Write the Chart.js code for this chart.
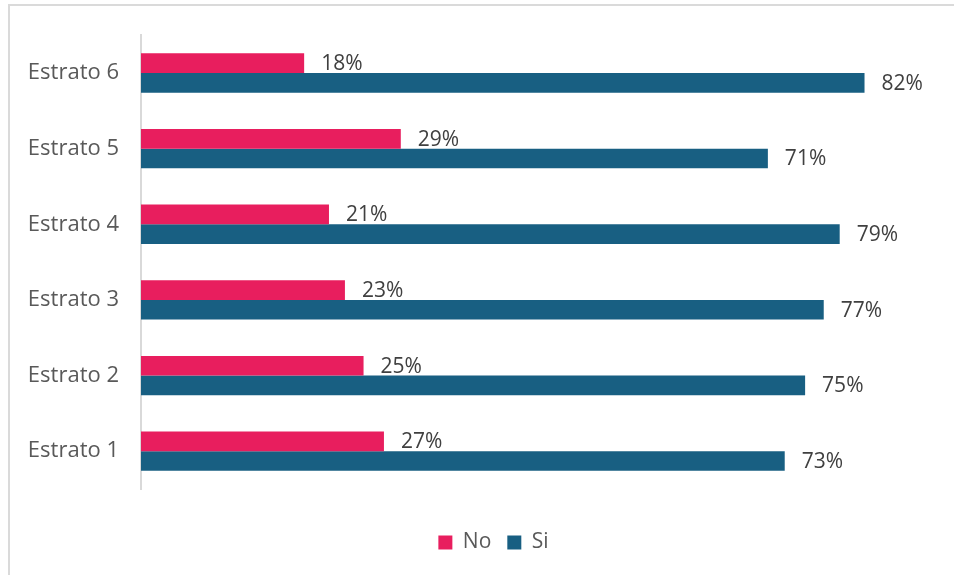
<!DOCTYPE html>
<html>
<head>
<meta charset="utf-8">
<script src="https://cdn.jsdelivr.net/npm/chart.js@4/dist/chart.umd.min.js"></script>
<style>
html,body{margin:0;padding:0;background:#fff;}
#wrap{position:relative;width:954px;height:575px;}
#frame{position:absolute;left:8px;top:4px;right:0;bottom:0;border-top:2px solid #dadada;border-left:2px solid #dadada;pointer-events:none;}
canvas{position:absolute;left:0;top:0;}
</style>
</head>
<body>
<div id="wrap">
<canvas id="c" width="954" height="575"></canvas>
<div id="frame"></div>
</div>
<script>
const categories = ['Estrato 6','Estrato 5','Estrato 4','Estrato 3','Estrato 2','Estrato 1'];
const seriesNo = [18.4, 29.3, 21.2, 23.0, 25.1, 27.4];
const seriesSi = [81.6, 70.7, 78.8, 77.0, 74.9, 72.6];
const seriesNames = ['No','Si'];
const colors = ['#E81E5E','#185F82'];
const FONT = "'Open Sans', sans-serif";

const labelPlugin = {
  id: 'barLabels',
  afterDatasetsDraw(chart) {
    const ctx = chart.ctx;
    ctx.save();
    ctx.font = "21px " + FONT;
    ctx.fillStyle = '#404040';
    ctx.textAlign = 'left';
    ctx.textBaseline = 'middle';
    chart.data.datasets.forEach((ds, i) => {
      const meta = chart.getDatasetMeta(i);
      meta.data.forEach((bar, j) => {
        const v = ds.data[j];
        ctx.fillText(Math.round(v) + '%', bar.x + 17, bar.y + 1);
      });
    });
    ctx.restore();
  }
};

const legendShift = {
  id: 'legendShift',
  afterLayout(chart) {
    const lg = chart.legend;
    if (lg) { lg.left += 24; lg.right += 24; }
  }
};

new Chart(document.getElementById('c'), {
  type: 'bar',
  data: {
    labels: categories,
    datasets: [
      { label: seriesNames[0], data: seriesNo, backgroundColor: colors[0], borderWidth: 0 },
      { label: seriesNames[1], data: seriesSi, backgroundColor: colors[1], borderWidth: 0 }
    ]
  },
  options: {
    indexAxis: 'y',
    responsive: false,
    animation: false,
    devicePixelRatio: 1,
    categoryPercentage: 0.52,
    barPercentage: 1.0,
    layout: { padding: { top: 33, right: 15, left: 0, bottom: 12 } },
    scales: {
      x: {
        display: true, min: 0, max: 90,
        grid: { display: false, drawTicks: false },
        border: { display: false },
        ticks: { display: false },
        afterFit(scale) { scale.height = 27; }
      },
      y: {
        grid: { display: false, drawTicks: false },
        border: { display: true, color: '#d9d9d9', width: 2 },
        ticks: { color: '#595959', font: { family: FONT, size: 22 }, padding: 22 },
        afterFit(scale) { scale.width = 141; }
      }
    },
    plugins: {
      legend: {
        position: 'bottom',
        labels: {
          boxWidth: 14, boxHeight: 14, padding: 16,
          color: '#595959',
          font: { family: FONT, size: 21 }
        }
      },
      tooltip: { enabled: false }
    }
  },
  plugins: [labelPlugin, legendShift]
});
</script>
</body>
</html>
